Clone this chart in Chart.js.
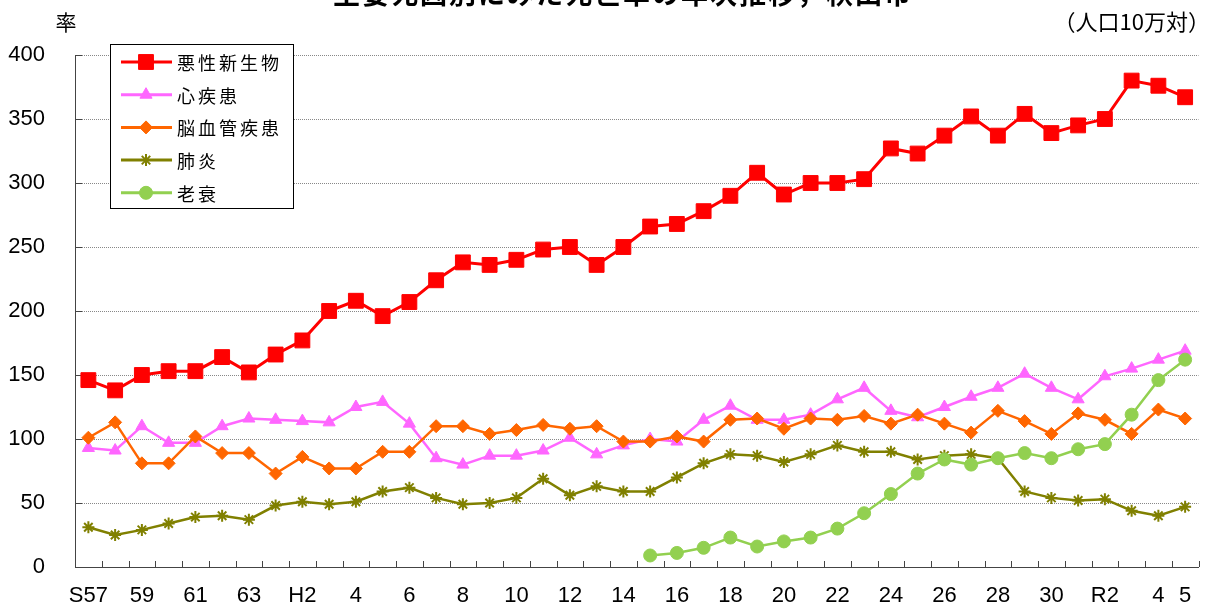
<!DOCTYPE html>
<html>
<head>
<meta charset="utf-8">
<script src="https://cdn.jsdelivr.net/npm/chart.js@4"></script>
<style>
  html, body { margin: 0; padding: 0; background: #fff; }
  canvas { display: block; }
</style>
</head>
<body>
<canvas id="chart" width="1210" height="604"></canvas>
<script>
// 年次 (S57〜R5)
const years = [
  "S57", "S58", "S59", "S60", "S61", "S62", "S63",
  "H1", "H2", "H3", "H4", "H5", "H6", "H7", "H8", "H9", "H10",
  "H11", "H12", "H13", "H14", "H15", "H16", "H17", "H18", "H19", "H20",
  "H21", "H22", "H23", "H24", "H25", "H26", "H27", "H28", "H29", "H30",
  "R1", "R2", "R3", "R4", "R5"
];
const tickLabels = [
  "S57", "", "59", "", "61", "", "63",
  "", "H2", "", "4", "", "6", "", "8", "", "10",
  "", "12", "", "14", "", "16", "", "18", "", "20",
  "", "22", "", "24", "", "26", "", "28", "", "30",
  "", "R2", "", "4", "5"
];
const yTicks = [0, 50, 100, 150, 200, 250, 300, 350, 400];

const cancer = [
  146, 138, 150, 153, 153, 164, 152,
  166, 177, 200, 208, 196, 207, 224, 238, 236, 240,
  248, 250, 236, 250, 266, 268, 278, 290, 308, 291,
  300, 300, 303, 327, 323, 337, 352, 337, 354, 339,
  345, 350, 380, 376, 367
];
const heart = [
  93, 91, 110, 97, 97, 110, 116,
  115, 114, 113, 125, 129, 112, 85, 80, 87, 87,
  91, 101, 88, 95, 100, 98, 115, 126, 115, 115,
  119, 131, 140, 122, 117, 125, 133, 140, 151, 140,
  131, 149, 155, 162, 169
];
const stroke = [
  101, 113, 81, 81, 102, 89, 89,
  73, 86, 77, 77, 90, 90, 110, 110, 104, 107,
  111, 108, 110, 98, 98, 102, 98, 115, 116, 108,
  116, 115, 118, 112, 119, 112, 105, 122, 114, 104,
  120, 115, 104, 123, 116
];
const pneumonia = [
  31, 25, 29, 34, 39, 40, 37,
  48, 51, 49, 51, 59, 62, 54, 49, 50, 54,
  69, 56, 63, 59, 59, 70, 81, 88, 87, 82,
  88, 95, 90, 90, 84, 87, 88, 85, 59, 54,
  52, 53, 44, 40, 47
];
const senility = [
  null, null, null, null, null, null, null,
  null, null, null, null, null, null, null, null, null, null,
  null, null, null, null, 9, 11, 15, 23, 16, 20,
  23, 30, 42, 57, 73, 84, 80, 85, 89, 85,
  92, 96, 119, 146, 162
];

const JP = '"Noto Sans CJK JP", sans-serif';
const NUM = '"Liberation Sans", Arial, sans-serif';

function series(label, data, color, pointStyle, radius, order, width) {
  return {
    label, data, order,
    borderColor: color,
    backgroundColor: color,
    borderWidth: width || 2.5,
    pointStyle,
    pointRadius: radius,
    pointBackgroundColor: color,
    pointBorderColor: color,
    pointBorderWidth: pointStyle === "star" ? 2 : 1,
    tension: 0
  };
}

const datasets = [
  series("悪性新生物", cancer, "#FF0000", "rect", 10.5, 5, 3),
  series("心疾患", heart, "#FF66FF", "triangle", 7, 4),
  series("脳血管疾患", stroke, "#FF6600", "rectRot", 6.5, 3),
  series("肺炎", pneumonia, "#808000", "star", 6, 2),
  series("老衰", senility, "#92D050", "circle", 6.5, 1)
];

// inside tick marks, legend box, and the texts round the plot
const overlay = {
  id: "overlay",
  beforeDatasetsDraw(chart) {
    const { ctx, chartArea: a, scales } = chart;
    ctx.save();
    ctx.strokeStyle = "#444";
    ctx.lineWidth = 1;
    ctx.beginPath();
    const n = years.length;
    for (let i = 0; i <= n; i++) {
      const x = Math.round(a.left + (a.right - a.left) * i / n) + 0.5;
      ctx.moveTo(x, a.bottom);
      ctx.lineTo(x, a.bottom - 6);
    }
    yTicks.forEach(v => {
      const y = Math.round(scales.y.getPixelForValue(v)) + 0.5;
      ctx.moveTo(a.left, y);
      ctx.lineTo(a.left + 7, y);
    });
    ctx.stroke();
    ctx.restore();
  },
  afterDraw(chart) {
    const { ctx } = chart;
    ctx.save();

    // legend
    ctx.fillStyle = "#fff";
    ctx.fillRect(110, 44, 183, 164);
    ctx.strokeStyle = "#000";
    ctx.lineWidth = 1;
    ctx.strokeRect(110.5, 44.5, 183, 164);
    chart.data.datasets.forEach((ds, i) => {
      const y = 62 + i * 32.7;
      ctx.strokeStyle = ds.borderColor;
      ctx.lineWidth = 3;
      ctx.beginPath();
      ctx.moveTo(121, y);
      ctx.lineTo(172, y);
      ctx.stroke();
      ctx.fillStyle = ds.pointBackgroundColor;
      ctx.strokeStyle = ds.pointBorderColor;
      ctx.lineWidth = ds.pointBorderWidth;
      Chart.helpers.drawPoint(ctx, {
        pointStyle: ds.pointStyle, radius: ds.pointRadius, rotation: 0,
        borderWidth: ds.pointBorderWidth
      }, 146, y);
      ctx.fillStyle = "#000";
      ctx.font = "18px " + JP;
      ctx.letterSpacing = "3px";
      ctx.textAlign = "left";
      ctx.textBaseline = "middle";
      ctx.fillText(ds.label, 177, y + 1);
    });

    // title (cut off at the top in the original)
    ctx.fillStyle = "#000";
    ctx.font = "bold 27px " + JP;
    ctx.letterSpacing = "2px";
    ctx.textAlign = "center";
    ctx.textBaseline = "alphabetic";
    ctx.fillText("主要死因別にみた死亡率の年次推移，秋田市", 623, 4);

    ctx.letterSpacing = "0px";
    ctx.font = "21px " + JP;
    ctx.textBaseline = "middle";
    ctx.fillText("率", 66, 22);

    ctx.font = "22px " + JP;
    ctx.textAlign = "right";
    ctx.fillText("（人口10万対）", 1210, 22);
    ctx.restore();
  }
};

new Chart(document.getElementById("chart"), {
  type: "line",
  data: { labels: years, datasets },
  options: {
    responsive: false,
    animation: false,
    devicePixelRatio: 1,
    layout: { padding: { top: 55, right: 5, left: 0, bottom: 0 } },
    plugins: {
      legend: { display: false },
      tooltip: { enabled: false }
    },
    scales: {
      x: {
        offset: true,
        grid: { display: false, drawTicks: false, offset: true },
        border: { display: true, color: "#444", width: 1 },
        ticks: {
          autoSkip: false,
          maxRotation: 0,
          padding: 16,
          color: "#000",
          font: { family: NUM, size: 22 },
          callback: (v, i) => tickLabels[i]
        },
        afterFit: s => { s.height = 37; }
      },
      y: {
        min: 0,
        max: 400,
        afterBuildTicks: s => { s.ticks = yTicks.map(v => ({ value: v })); },
        grid: { color: "#888", lineWidth: 1, drawTicks: false },
        border: { display: true, color: "#444", width: 1, dash: [1, 1] },
        ticks: {
          padding: 30,
          color: "#000",
          font: { family: NUM, size: 22 }
        },
        afterFit: s => {
          s.width = 75;
          s.paddingTop = 0;
          s.paddingBottom = 0;
        }
      }
    }
  },
  plugins: [overlay]
});
</script>
</body>
</html>
